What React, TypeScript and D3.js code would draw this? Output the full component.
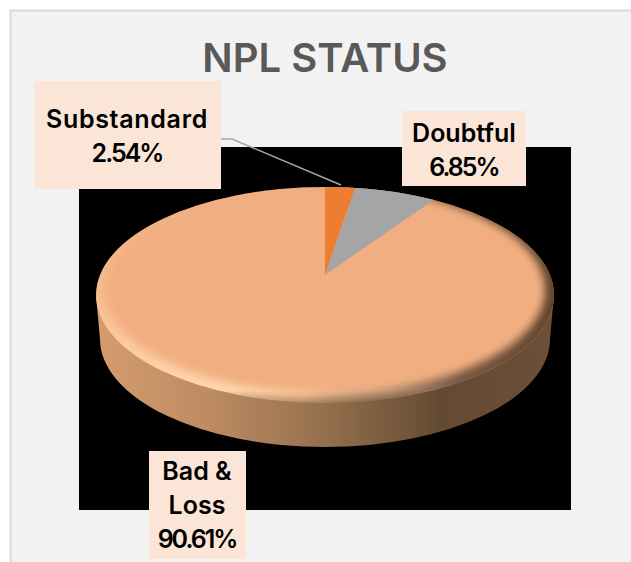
import * as d3 from "d3";

const categories = ["Substandard", "Doubtful", "Bad & Loss"];
const shares = [2.54, 6.85, 90.61];
const sliceColors = ["#ed7d31", "#a5a5a5", "#f1af81"];
const labelLines = [["Substandard", "2.54%"], ["Doubtful", "6.85%"], ["Bad &", "Loss", "90.61%"]];

const width = 631;
const height = 562;

// pie ellipse, the apex sits above the ellipse centre because of the perspective
const cx = 325;
const cy = 295;
const rx = 229;
const ry = 108;
const depth = 44;
const tilt = 0.185;

const project = (angle: number, r = 1): [number, number] => {
  const u = r * Math.sin(angle);
  const v = r * Math.cos(angle);
  const w = 1 + tilt * v;
  return [cx + (rx * u * Math.sqrt(1 - tilt * tilt)) / w, cy - (ry * (v + tilt)) / w];
};

const slices = d3.pie<number>().sort(null)(shares);
const line = d3.line();

const slicePath = (start: number, end: number) => {
  const steps = d3.range(0, 121).map((i) => start + ((end - start) * i) / 120);
  return line([project(0, 0), ...steps.map((a) => project(a))]) + "Z";
};

const labelBoxes = [
  { x: 34, y: 81, w: 187, h: 108, cx: 127, lines: [128, 162] },
  { x: 402, y: 111, w: 124, h: 75, cx: 464, lines: [142, 176] },
  { x: 149, y: 451, w: 97, h: 108, cx: 197, lines: [480, 514, 548] },
];

export default function App() {
  return (
    <svg
      width={width}
      height={height}
      style={{ position: "absolute", left: 0, top: 0, fontFamily: "Inter, Lato, sans-serif" }}
    >
      <defs>
        <linearGradient id="side" x1="0" x2="1" y1="0" y2="0">
          <stop offset="0" stopColor="#d49c6e" />
          <stop offset="0.25" stopColor="#bd8b62" />
          <stop offset="0.5" stopColor="#94704d" />
          <stop offset="0.75" stopColor="#654a33" />
          <stop offset="1" stopColor="#6b4f36" />
        </linearGradient>
        <linearGradient id="rim" x1="0" x2="0" y1="0" y2="1">
          <stop offset="0" stopColor="#f1af81" />
          <stop offset="0.5" stopColor="#f7bd8e" />
          <stop offset="0.94" stopColor="#ffd6ae" />
          <stop offset="1" stopColor="#b88a62" />
        </linearGradient>
        <linearGradient id="rimShade" x1="0" x2="1" y1="0" y2="0">
          <stop offset="0" stopColor="#000" stopOpacity="0" />
          <stop offset="0.45" stopColor="#000" stopOpacity="0" />
          <stop offset="0.8" stopColor="#3a2414" stopOpacity="0.7" />
          <stop offset="1" stopColor="#3a2414" stopOpacity="0.8" />
        </linearGradient>
        <filter id="soft" x="-5%" y="-5%" width="110%" height="110%">
          <feGaussianBlur stdDeviation="4" />
        </filter>
        <clipPath id="topClip">
          <ellipse cx={cx} cy={cy} rx={rx} ry={ry} />
        </clipPath>
      </defs>

      <rect x={10.5} y={10.5} width={width} height={height} fill="#f2f2f2" stroke="#d9d9d9" strokeWidth={2} />
      <text x={325} y={72} textAnchor="middle" fontSize={40} fontWeight={600} fill="#595959">
        NPL STATUS
      </text>
      <rect x={79} y={147} width={492} height={363} fill="#000" />

      {/* extruded wall */}
      <path
        d={`M${cx - rx},${cy}L${cx - rx + 4},${cy + depth}A${rx - 4},${ry} 0 0 0 ${cx + rx - 4},${cy + depth}L${cx + rx},${cy}Z`}
        fill="url(#side)"
      />

      {/* top face with its bevel */}
      <ellipse cx={cx} cy={cy} rx={rx} ry={ry} fill="url(#rim)" />
      <ellipse cx={cx} cy={cy} rx={rx} ry={ry} fill="url(#rimShade)" />
      <g clipPath="url(#topClip)">
        <ellipse cx={cx} cy={cy - 5} rx={rx - 9} ry={ry - 5} fill={sliceColors[2]} filter="url(#soft)" />
      </g>
      {slices.slice(0, 2).map((s, i) => (
        <path key={categories[i]} d={slicePath(s.startAngle, s.endAngle)} fill={sliceColors[i]} />
      ))}

      {/* leader line for the small slice */}
      <path d="M221,139H232L341,185" fill="none" stroke="#a6a6a6" strokeWidth={1.5} />

      {labelBoxes.map((b, i) => (
        <g key={categories[i]}>
          <rect x={b.x} y={b.y} width={b.w} height={b.h} fill="#fbe5d6" />
          {labelLines[i].map((t, j) => (
            <text
              key={t}
              x={b.cx}
              y={b.lines[j]}
              textAnchor="middle"
              fontSize={25}
              fontWeight={600}
              fill="#000"
              letterSpacing={t.endsWith("%") ? -2 : t === "Substandard" ? 0.7 : 0}
            >
              {t}
            </text>
          ))}
        </g>
      ))}
    </svg>
  );
}
